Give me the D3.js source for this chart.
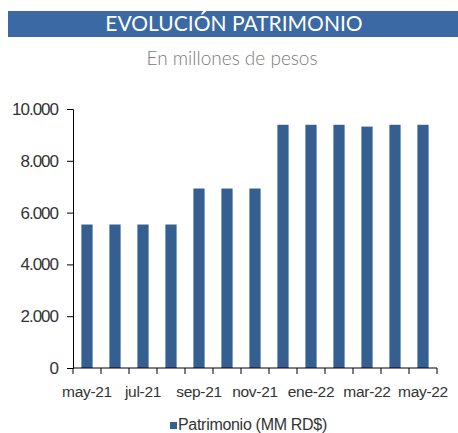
<!DOCTYPE html>
<html><head><meta charset="utf-8">
<script src="https://cdn.jsdelivr.net/npm/d3@7"></script>
<style>body{margin:0;background:#fff}</style>
</head><body>
<svg id="c" width="458" height="433"></svg>
<script>
const categories = ["may-21","jun-21","jul-21","ago-21","sep-21","oct-21","nov-21","dic-21","ene-22","feb-22","mar-22","abr-22","may-22"];
const values = [5540,5540,5540,5540,6930,6930,6930,9390,9390,9390,9320,9390,9390];
const yTicks = [0,2000,4000,6000,8000,10000];
const shownLabels = ["may-21","jul-21","sep-21","nov-21","ene-22","mar-22","may-22"];
const title = "EVOLUCIÓN PATRIMONIO";
const subtitle = "En millones de pesos";
const seriesName = "Patrimonio (MM RD$)";

const svg = d3.select("#c");
const barColor = "#365F91";
const fmt = v => d3.format(",")(v).replace(/,/g, ".");

svg.append("rect").attr("x",8).attr("y",11).attr("width",450).attr("height",26).attr("fill","#3B69A3");
svg.append("text").attr("x",234).attr("y",31).attr("text-anchor","middle")
  .attr("font-family","Lato").attr("font-size",21).attr("font-weight",400).attr("fill","#fff").text(title);
svg.append("text").attr("x",232).attr("y",65).attr("text-anchor","middle")
  .attr("font-family","Lato").attr("font-size",19).attr("font-weight",300).attr("fill","#7a7a7a").text(subtitle);

const x = d3.scaleBand().domain(categories).range([73,437]).paddingInner(0.6).paddingOuter(0.3);
const y = d3.scaleLinear().domain([0,10000]).range([368,109]);

svg.append("g").selectAll("rect").data(values).join("rect")
  .attr("x",(d,i)=>x(categories[i])).attr("width",x.bandwidth())
  .attr("y",d=>y(d)).attr("height",d=>y(0)-y(d)).attr("fill",barColor);

const yAxis = svg.append("g").attr("transform","translate(73,0)")
  .call(d3.axisLeft(y).tickValues(yTicks).tickFormat(fmt).tickSize(6).tickPadding(9));
yAxis.selectAll("text").attr("font-family","Liberation Sans, Arial").attr("font-size",17)
  .attr("letter-spacing",-1).attr("fill","#333");
yAxis.selectAll("line,path").attr("stroke","#000");

const boundaries = d3.range(categories.length+1).map(i => 73 + i*(437-73)/categories.length);
const xg = svg.append("g");
xg.append("line").attr("x1",73).attr("x2",437).attr("y1",368).attr("y2",368).attr("stroke","#000");
xg.selectAll("line.t").data(boundaries).join("line").attr("class","t")
  .attr("x1",d=>d).attr("x2",d=>d).attr("y1",368).attr("y2",374).attr("stroke","#000");
xg.selectAll("text").data(shownLabels).join("text")
  .attr("x",d=>x(d)+x.bandwidth()/2).attr("y",396.5).attr("text-anchor","middle")
  .attr("font-family","Liberation Sans, Arial").attr("font-size",15.5).attr("letter-spacing",-0.3)
  .attr("fill","#333").text(d=>d);

// legend
svg.append("rect").attr("x",170).attr("y",422).attr("width",7).attr("height",7).attr("fill",barColor);
svg.append("text").attr("x",178).attr("y",430).attr("font-family","Liberation Sans, Arial")
  .attr("font-size",16).attr("letter-spacing",-0.3).attr("fill","#333").text(seriesName);
</script>
</body></html>
